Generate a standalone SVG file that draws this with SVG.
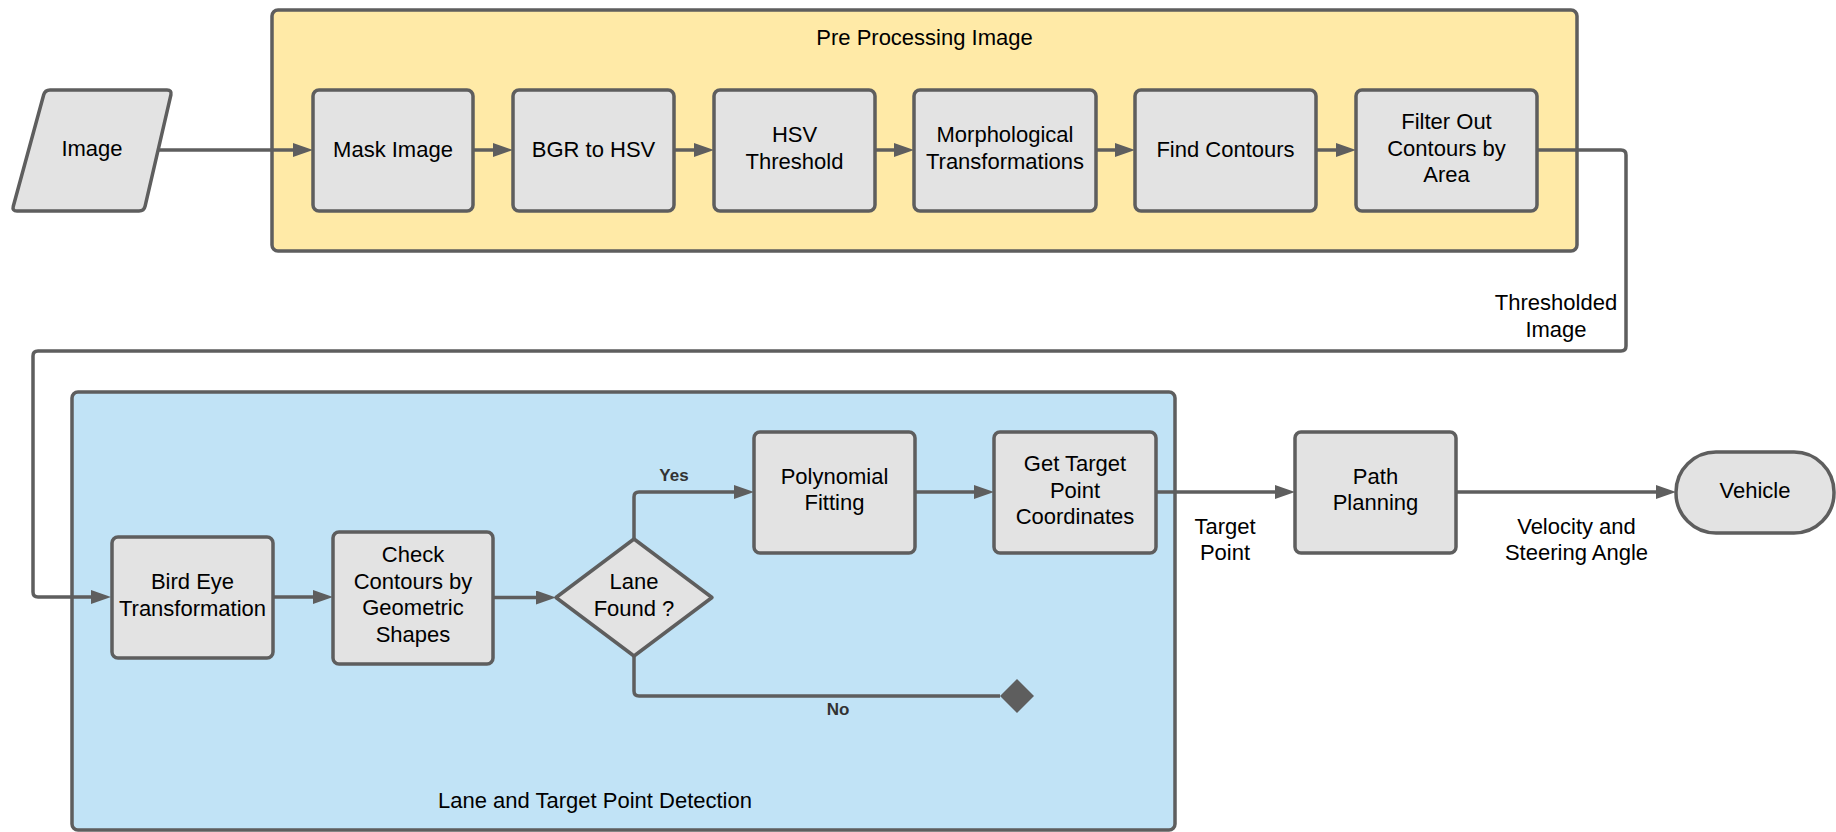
<svg xmlns="http://www.w3.org/2000/svg" width="1836" height="832" viewBox="0 0 1836 832">
<defs>
<style>
.box{fill:#e3e3e3;stroke:#5e5e5e;stroke-width:3.5;stroke-linejoin:round}
.t{font-family:"Liberation Sans",Arial,sans-serif;font-size:22px;fill:#000;text-anchor:middle}
.lbl{font-family:"Liberation Sans",Arial,sans-serif;font-size:17px;font-weight:bold;fill:#333;text-anchor:middle}
.c{fill:none;stroke:#5e5e5e;stroke-width:3.5;stroke-linejoin:round}
.a{marker-end:url(#arr)}
</style>
<marker id="arr" markerUnits="userSpaceOnUse" markerWidth="20" markerHeight="14" refX="10" refY="7" orient="auto">
<path d="M0,0 L20,7 L0,14 Z" fill="#5e5e5e"/>
</marker>
<marker id="dia" markerUnits="userSpaceOnUse" markerWidth="36" markerHeight="36" refX="1" refY="18" orient="auto">
<path d="M1,18 L18,1 L35,18 L18,35 Z" fill="#5e5e5e"/>
</marker>
</defs>
<rect width="1836" height="832" fill="#fff"/>

<g id="group-preprocessing">
<rect x="272" y="10" width="1305" height="241" rx="6" fill="#ffeaa7" stroke="#5e5e5e" stroke-width="3.5"/>
<text class="t" x="924.5" y="45">Pre Processing Image</text>
</g>
<g id="group-lane">
<rect x="72" y="392" width="1103" height="438" rx="6" fill="#c1e3f6" stroke="#5e5e5e" stroke-width="3.5"/>
<text class="t" x="595" y="808">Lane and Target Point Detection</text>
</g>

<g id="connectors">
<path class="c a" d="M158,150 H303"/>
<path class="c a" d="M473,150 H503"/>
<path class="c a" d="M674,150 H704"/>
<path class="c a" d="M875,150 H904"/>
<path class="c a" d="M1096,150 H1125"/>
<path class="c a" d="M1316,150 H1346"/>
<path class="c a" d="M1537,150 H1621 Q1626,150 1626,155 V346 Q1626,351 1621,351 H38 Q33,351 33,356 V592 Q33,597 38,597 H101"/>
<path class="c a" d="M273,597 H323"/>
<path class="c a" d="M493,597.5 H546"/>
<path class="c a" d="M634,539 V497 Q634,492 639,492 H744"/>
<path class="c" d="M634,656 V691 Q634,696 639,696 H1000" marker-end="url(#dia)"/>
<path class="c a" d="M915,492 H984"/>
<path class="c a" d="M1156,492 H1285"/>
<path class="c a" d="M1456,492 H1666"/>
<text class="lbl" x="674" y="481">Yes</text>
<text class="lbl" x="838" y="715">No</text>
<text class="t" x="1556" y="310">Thresholded</text>
<text class="t" x="1556" y="337">Image</text>
<text class="t" x="1225" y="533.5">Target</text>
<text class="t" x="1225" y="560">Point</text>
<text class="t" x="1576.5" y="533.5">Velocity and</text>
<text class="t" x="1576.5" y="560">Steering Angle</text>
</g>

<g id="node-image">
<path class="box" d="M50,90 H167 Q172,90 170.9,94.9 L145.1,206.1 Q144,211 139,211 H17 Q12,211 13.3,206.2 L43.7,94.8 Q45,90 50,90 Z"/>
<text class="t" x="92" y="156">Image</text>
</g>
<g id="node-mask">
<rect class="box" x="313" y="90" width="160" height="121" rx="6"/>
<text class="t" x="393" y="157">Mask Image</text>
</g>
<g id="node-bgr">
<rect class="box" x="513" y="90" width="161" height="121" rx="6"/>
<text class="t" x="593.5" y="157">BGR to HSV</text>
</g>
<g id="node-hsv">
<rect class="box" x="714" y="90" width="161" height="121" rx="6"/>
<text class="t" x="794.5" y="142">HSV</text>
<text class="t" x="794.5" y="168.5">Threshold</text>
</g>
<g id="node-morph">
<rect class="box" x="914" y="90" width="182" height="121" rx="6"/>
<text class="t" x="1005" y="142">Morphological</text>
<text class="t" x="1005" y="168.5">Transformations</text>
</g>
<g id="node-find">
<rect class="box" x="1135" y="90" width="181" height="121" rx="6"/>
<text class="t" x="1225.5" y="157">Find Contours</text>
</g>
<g id="node-filter">
<rect class="box" x="1356" y="90" width="181" height="121" rx="6"/>
<text class="t" x="1446.5" y="129">Filter Out</text>
<text class="t" x="1446.5" y="155.5">Contours by</text>
<text class="t" x="1446.5" y="182">Area</text>
</g>
<g id="node-birdeye">
<rect class="box" x="112" y="537" width="161" height="121" rx="6"/>
<text class="t" x="192.5" y="589">Bird Eye</text>
<text class="t" x="192.5" y="615.7">Transformation</text>
</g>
<g id="node-check">
<rect class="box" x="333" y="532" width="160" height="132" rx="6"/>
<text class="t" x="413" y="562">Check</text>
<text class="t" x="413" y="588.5">Contours by</text>
<text class="t" x="413" y="615">Geometric</text>
<text class="t" x="413" y="641.5">Shapes</text>
</g>
<g id="node-lanefound">
<path class="box" d="M634,539 L712,597.5 L634,656 L556,597.5 Z"/>
<text class="t" x="634" y="589">Lane</text>
<text class="t" x="634" y="615.5">Found ?</text>
</g>
<g id="node-poly">
<rect class="box" x="754" y="432" width="161" height="121" rx="6"/>
<text class="t" x="834.5" y="483.5">Polynomial</text>
<text class="t" x="834.5" y="510">Fitting</text>
</g>
<g id="node-gettarget">
<rect class="box" x="994" y="432" width="162" height="121" rx="6"/>
<text class="t" x="1075" y="471">Get Target</text>
<text class="t" x="1075" y="497.5">Point</text>
<text class="t" x="1075" y="524">Coordinates</text>
</g>
<g id="node-path">
<rect class="box" x="1295" y="432" width="161" height="121" rx="6"/>
<text class="t" x="1375.5" y="483.5">Path</text>
<text class="t" x="1375.5" y="510">Planning</text>
</g>
<g id="node-vehicle">
<rect class="box" x="1676" y="452" width="158" height="81" rx="40"/>
<text class="t" x="1755" y="498">Vehicle</text>
</g>
</svg>
